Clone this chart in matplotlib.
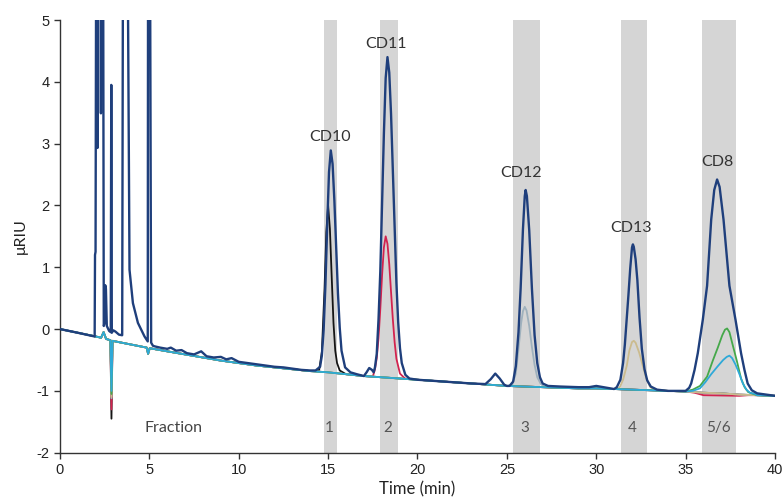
import matplotlib
matplotlib.use("Agg")
import matplotlib.pyplot as plt

plt.rcParams["axes.unicode_minus"] = False

# shared detector baseline (min, uRIU)
base_t = [0, 1, 2, 3, 4, 5, 6, 7, 8, 9, 10, 11, 12, 13, 14, 15, 16, 17, 18, 19, 20,
          21, 22, 23, 24, 25, 26, 27, 28, 29, 30, 31, 32, 33, 34, 35, 36, 37, 38, 39, 40]
base_y = [0.0, -0.06, -0.12, -0.18, -0.24, -0.30, -0.36, -0.41, -0.46, -0.51, -0.55,
          -0.59, -0.62, -0.65, -0.68, -0.70, -0.73, -0.76, -0.78, -0.80, -0.82,
          -0.84, -0.86, -0.88, -0.90, -0.92, -0.93, -0.94, -0.95, -0.96, -0.96,
          -0.97, -0.98, -0.99, -1.00, -1.01, -1.03, -1.04, -1.06, -1.07, -1.08]

# injection artefact seen in every fraction run; dip depth differs per run
artefact_t = [2.30, 2.44, 2.58, 2.82, 2.88, 2.94, 3.10, 4.85, 4.93, 5.02]
artefact_y = [-0.14, -0.05, -0.16, -0.18, None, -0.19, -0.20, -0.30, -0.40, -0.31]

# full mixture (dark blue)
mix_early_t = [1.94, 1.96, 1.99, 2.03, 2.08, 2.10, 2.12, 2.20, 2.27, 2.29, 2.31, 2.36, 2.41,
               2.45, 2.50, 2.53, 2.57, 2.62, 2.75, 2.84, 2.87, 2.90, 2.98, 3.10, 3.30,
               3.48, 3.53, 3.60, 3.70, 3.77, 3.89, 4.08, 4.36, 4.73, 4.86, 4.91, 4.93,
               4.98, 5.03, 5.10, 5.20]
mix_early_y = [-0.12, 1.20, 1.25, 7.0, 7.0, 2.93, 7.0, 7.0, 7.0, 3.49, 7.0, 7.0, 7.0,
               0.05, 0.10, 0.71, 0.65, 0.05, -0.03, -0.05, 3.95, -0.06, -0.02, -0.04, -0.09,
               -0.10, 7.0, 7.0, 7.0, 7.0, 0.96, 0.42, 0.10, -0.12, -0.18, -0.20, 7.0,
               7.0, 7.0, -0.22, -0.27]
mix_wiggle_t = [5.3, 5.6, 6.0, 6.2, 6.5, 6.8, 7.1, 7.5, 7.9, 8.2, 8.6, 9.0, 9.3, 9.6,
                10.0, 10.5, 11.0, 11.5, 12.0, 12.5, 13.0, 13.5, 14.0]
mix_wiggle_y = [-0.28, -0.30, -0.32, -0.30, -0.35, -0.34, -0.39, -0.41, -0.36, -0.44,
                -0.46, -0.45, -0.49, -0.47, -0.53, -0.55, -0.57, -0.59, -0.61, -0.62,
                -0.64, -0.66, -0.67]
mix_cd10_t = [14.3, 14.55, 14.65, 14.75, 14.85, 14.95, 15.05, 15.15, 15.25, 15.35, 15.45,
              15.55, 15.65, 15.75, 15.95, 16.25, 16.6]
mix_cd10_y = [-0.67, -0.61, -0.43, -0.01, 0.72, 1.68, 2.54, 2.89, 2.67, 2.08, 1.32,
              0.58, 0.02, -0.35, -0.62, -0.70, -0.73]
mix_cd11_t = [17.0, 17.15, 17.3, 17.45, 17.55, 17.62, 17.72, 17.82, 17.92, 18.02, 18.12,
              18.22, 18.32, 18.42, 18.52, 18.62, 18.72, 18.82, 18.92, 19.02, 19.12,
              19.32, 19.55]
mix_cd11_y = [-0.76, -0.70, -0.63, -0.66, -0.70, -0.62, -0.40, 0.16, 0.94, 2.02, 3.16,
              4.06, 4.40, 4.15, 3.48, 2.56, 1.59, 0.75, 0.11, -0.31, -0.55, -0.74, -0.80]
mix_bump_t = [23.8, 24.1, 24.35, 24.6, 24.85]
mix_bump_y = [-0.89, -0.81, -0.72, -0.80, -0.90]
mix_cd12_t = [25.15, 25.35, 25.5, 25.65, 25.77, 25.9, 26.0, 26.05, 26.12, 26.25, 26.4,
              26.55, 26.7, 26.85, 27.0, 27.3, 28.0, 29.0, 29.6, 30.0, 30.4, 30.8]
mix_cd12_y = [-0.92, -0.85, -0.60, -0.05, 0.66, 1.62, 2.15, 2.25, 2.15, 1.60, 0.66,
              -0.10, -0.55, -0.78, -0.88, -0.92, -0.93, -0.94, -0.94, -0.92, -0.94, -0.96]
mix_cd13_t = [31.15, 31.35, 31.5, 31.6, 31.71, 31.8, 31.9, 32.0, 32.05, 32.1, 32.2,
              32.3, 32.42, 32.55, 32.7, 32.85, 33.05, 33.4]
mix_cd13_y = [-0.94, -0.82, -0.55, -0.25, 0.19, 0.55, 0.98, 1.32, 1.37, 1.33, 1.13,
              0.79, 0.19, -0.32, -0.65, -0.83, -0.93, -0.98]
mix_cd8_t = [35.0, 35.2, 35.31, 35.5, 35.68, 35.96, 36.2, 36.43, 36.6, 36.76, 36.9,
             37.12, 37.45, 37.79, 38.1, 38.29, 38.47, 38.7, 39.0]
mix_cd8_y = [-1.00, -0.95, -0.88, -0.66, -0.39, 0.15, 0.70, 1.77, 2.25, 2.42, 2.30,
             1.77, 0.70, 0.15, -0.39, -0.66, -0.88, -0.99, -1.04]

# collected fractions
f1_t = [14.3, 14.5, 14.65, 14.8, 14.9, 15.0, 15.1, 15.2, 15.3, 15.4, 15.5, 15.65, 16.0]
f1_y = [-0.68, -0.66, -0.37, 0.66, 1.57, 2.00, 1.62, 0.85, 0.10, -0.35, -0.55, -0.67, -0.73]
f2_t = [17.5, 17.62, 17.72, 17.82, 17.92, 18.02, 18.12, 18.22, 18.32, 18.42, 18.52,
        18.62, 18.72, 18.82, 19.02, 19.3]
f2_y = [-0.77, -0.65, -0.47, -0.15, 0.33, 0.88, 1.32, 1.50, 1.38, 1.05, 0.60,
        0.16, -0.21, -0.48, -0.72, -0.80]
f2_tail_t = [35.5, 36.0, 38.0, 38.5]
f2_tail_y = [-1.03, -1.07, -1.08, -1.07]
f3_t = [25.3, 25.5, 25.66, 25.8, 25.9, 26.0, 26.1, 26.25, 26.4, 26.55, 26.7, 26.9, 27.1]
f3_y = [-0.90, -0.72, -0.29, 0.10, 0.29, 0.36, 0.30, 0.05, -0.29, -0.58, -0.78, -0.89, -0.93]
f4_t = [31.3, 31.5, 31.71, 31.85, 32.0, 32.1, 32.2, 32.4, 32.6, 32.8, 33.0, 33.2]
f4_y = [-0.95, -0.82, -0.59, -0.35, -0.21, -0.19, -0.22, -0.38, -0.59, -0.80, -0.93, -0.98]
f5_t = [35.4, 35.8, 36.2, 36.52, 36.8, 37.05, 37.2, 37.32, 37.45, 37.6, 37.86, 38.1,
        38.3, 38.5, 38.8]
f5_y = [-0.98, -0.92, -0.77, -0.51, -0.30, -0.10, -0.01, 0.01, -0.05, -0.22, -0.51, -0.80,
        -0.94, -1.02, -1.05]
f6_t = [35.4, 35.8, 36.1, 36.43, 36.8, 37.1, 37.3, 37.45, 37.6, 37.8, 38.01, 38.2,
        38.4, 38.6, 38.9]
f6_y = [-1.00, -0.96, -0.86, -0.73, -0.60, -0.50, -0.45, -0.43, -0.47, -0.58, -0.73, -0.88,
        -0.98, -1.03, -1.05]

fraction_dips = [-1.45, -1.30, -1.12, -1.10, -1.05, -1.00]
fraction_colors = ["#151515", "#d2234f", "#9fb1bd", "#cbbb8e", "#45a84a", "#2fa9d8"]

bands = [(14.76, 15.47), (17.89, 18.91), (25.34, 26.87), (31.36, 32.85), (35.92, 37.79)]
band_labels = ["1", "2", "3", "4", "5/6"]
band_label_x = [15.04, 18.33, 25.99, 32.03, 36.84]
peak_names = ["CD10", "CD11", "CD12", "CD13", "CD8"]
peak_label_x = [15.1, 18.22, 25.82, 31.97, 36.78]
peak_label_y = [3.11, 4.61, 2.53, 1.64, 2.70]


def build_trace(segments):
    ts, ys = [], []
    for st, sy in segments:
        ts += list(st)
        ys += list(sy)
    for bt, by in zip(base_t, base_y):
        if not any(st[0] <= bt <= st[-1] for st, _ in segments):
            ts.append(bt)
            ys.append(by)
    pts = sorted(zip(ts, ys))
    return [p[0] for p in pts], [p[1] for p in pts]


fig = plt.figure(figsize=(7.83, 5.04), dpi=100)
ax = fig.add_axes([0.0766, 0.1018, 0.9132, 0.8585])

for (a, b) in bands:
    ax.axvspan(a, b, color="#d5d5d5", lw=0, zorder=0)

fraction_segments = [
    [(f1_t, f1_y)],
    [(f2_t, f2_y), (f2_tail_t, f2_tail_y)],
    [(f3_t, f3_y)],
    [(f4_t, f4_y)],
    [(f5_t, f5_y)],
    [(f6_t, f6_y)],
]
for segs, dip, col in zip(fraction_segments, fraction_dips, fraction_colors):
    art_y = [dip if v is None else v for v in artefact_y]
    t, y = build_trace([(artefact_t, art_y)] + segs)
    ax.plot(t, y, color=col, lw=1.3, zorder=2)

mix_segments = [(mix_early_t, mix_early_y), (mix_wiggle_t, mix_wiggle_y),
                (mix_cd10_t, mix_cd10_y), (mix_cd11_t, mix_cd11_y),
                (mix_bump_t, mix_bump_y), (mix_cd12_t, mix_cd12_y),
                (mix_cd13_t, mix_cd13_y), (mix_cd8_t, mix_cd8_y)]
t, y = build_trace(mix_segments)
ax.plot(t, y, color="#1f3f7c", lw=1.7, zorder=3)

for name, x, yv in zip(peak_names, peak_label_x, peak_label_y):
    ax.text(x, yv, name, ha="center", va="center", fontsize=11.5, color="#333333",
            family="Lato")
for lab, x in zip(band_labels, band_label_x):
    ax.text(x, -1.6, lab, ha="center", va="center", fontsize=11, color="#555555",
            family="Lato")
ax.text(6.35, -1.6, "Fraction", ha="center", va="center", fontsize=11.5, color="#444444",
        family="Lato")

ax.set_xlim(0, 40)
ax.set_ylim(-2, 5)
ax.set_xticks(range(0, 41, 5))
ax.set_yticks(range(-2, 6))
ax.spines["top"].set_visible(False)
ax.spines["right"].set_visible(False)
for s in ["left", "bottom"]:
    ax.spines[s].set_color("#333333")
    ax.spines[s].set_linewidth(1.0)
ax.tick_params(direction="out", length=4, width=1.0, color="#333333",
               labelsize=10.5, labelcolor="#222222")
for lbl in ax.get_xticklabels() + ax.get_yticklabels():
    lbl.set_family("Liberation Sans")
ax.set_xlabel("Time (min)", fontsize=12, family="Lato", color="#222222", labelpad=3)
ax.set_ylabel("\u03bcRIU", fontsize=11.5, family="Lato", color="#222222", labelpad=6)

fig.savefig("out.png", dpi=100)
